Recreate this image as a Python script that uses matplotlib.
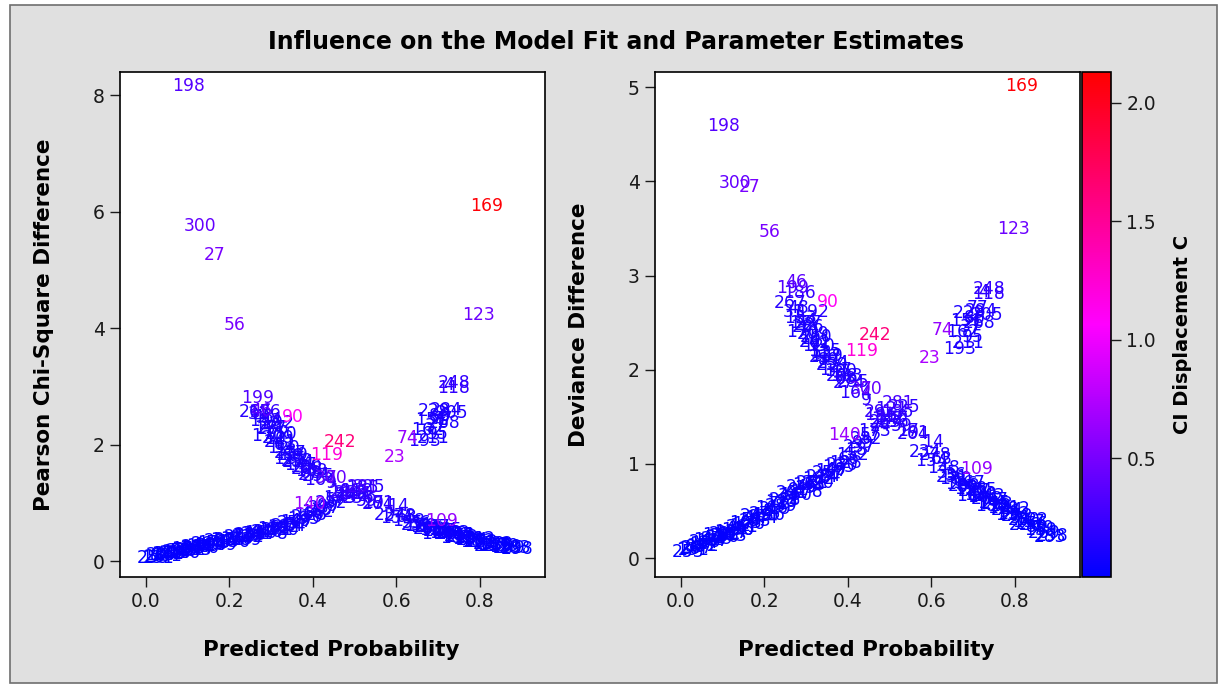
import matplotlib
matplotlib.use("Agg")
import matplotlib.pyplot as plt
import numpy as np
from matplotlib.colors import LinearSegmentedColormap, Normalize
from matplotlib.patches import Rectangle

plt.rcParams['font.family'] = ['DejaVu Sans']

# observation number, predicted probability, Pearson chi-square difference,
# deviance difference, CI displacement C -- read off the picture by eye

# ascending branch (observed 0, low p)
ids_a = [253, 26, 131, 88, 207, 15, 172, 240, 64, 113, 187, 52, 279, 39, 156, 222,
         81, 134, 297, 45, 190, 12, 261, 103, 176, 58, 233, 97, 144, 275, 8, 166,
         219, 71, 125, 288, 34, 201, 160, 92, 246, 19, 138, 271, 61, 182, 214, 5,
         257, 107, 49, 195, 230, 128, 66, 140, 152, 18, 237, 99, 282, 57, 173, 24,
         263, 110, 185, 225, 41, 116, 203, 76, 249, 136, 289, 2, 178, 220, 84]
prob_a = [0.018, 0.022, 0.028, 0.035, 0.040, 0.046, 0.052, 0.058, 0.064, 0.070, 0.076,
          0.082, 0.088, 0.094, 0.100, 0.106, 0.112, 0.118, 0.124, 0.130, 0.136, 0.142,
          0.148, 0.155, 0.162, 0.170, 0.178, 0.186, 0.194, 0.202, 0.210, 0.218, 0.226,
          0.234, 0.242, 0.250, 0.258, 0.266, 0.274, 0.282, 0.290, 0.298, 0.306, 0.314,
          0.322, 0.330, 0.338, 0.346, 0.354, 0.362, 0.370, 0.378, 0.386, 0.394, 0.402,
          0.392, 0.412, 0.420, 0.428, 0.436, 0.445, 0.455, 0.465, 0.478, 0.490, 0.505,
          0.520, 0.535, 0.060, 0.090, 0.120, 0.150, 0.180, 0.210, 0.240, 0.270, 0.300,
          0.330, 0.360]
chisq_a = [0.05, 0.08, 0.06, 0.09, 0.11, 0.10, 0.13, 0.12, 0.15, 0.14, 0.16, 0.18, 0.17,
           0.19, 0.21, 0.20, 0.23, 0.22, 0.25, 0.24, 0.27, 0.26, 0.29, 0.28, 0.31, 0.32,
           0.34, 0.33, 0.36, 0.37, 0.39, 0.38, 0.41, 0.43, 0.42, 0.45, 0.47, 0.46, 0.49,
           0.51, 0.50, 0.53, 0.55, 0.54, 0.57, 0.59, 0.61, 0.63, 0.65, 0.68, 0.70, 0.73,
           0.76, 0.79, 0.81, 0.99, 0.84, 0.88, 0.91, 0.95, 1.00, 1.05, 1.09, 1.13, 1.17,
           1.20, 1.25, 1.28, 0.09, 0.14, 0.19, 0.23, 0.28, 0.33, 0.37, 0.42, 0.47, 0.53,
           0.60]
dev_a = [0.07, 0.10, 0.09, 0.12, 0.11, 0.15, 0.13, 0.17, 0.16, 0.19, 0.18, 0.21, 0.20,
         0.24, 0.22, 0.26, 0.25, 0.28, 0.27, 0.31, 0.30, 0.34, 0.33, 0.37, 0.36, 0.40,
         0.39, 0.44, 0.43, 0.47, 0.50, 0.53, 0.52, 0.57, 0.60, 0.62, 0.66, 0.69, 0.67,
         0.72, 0.75, 0.74, 0.78, 0.80, 0.79, 0.84, 0.86, 0.85, 0.90, 0.92, 0.94, 0.97,
         0.99, 1.01, 1.05, 1.31, 1.10, 1.15, 1.18, 1.22, 1.26, 1.31, 1.35, 1.40, 1.45,
         1.50, 1.55, 1.60, 0.13, 0.25, 0.24, 0.30, 0.45, 0.46, 0.55, 0.63, 0.70, 0.80,
         0.87]
cdisp_a = [0.00, 0.00, 0.00, 0.01, 0.01, 0.01, 0.01, 0.01, 0.01, 0.01, 0.01, 0.02, 0.02,
           0.02, 0.02, 0.02, 0.02, 0.02, 0.02, 0.02, 0.03, 0.03, 0.03, 0.03, 0.03, 0.03,
           0.03, 0.03, 0.04, 0.04, 0.04, 0.04, 0.04, 0.04, 0.05, 0.05, 0.05, 0.05, 0.05,
           0.06, 0.06, 0.06, 0.06, 0.06, 0.07, 0.07, 0.07, 0.07, 0.08, 0.08, 0.08, 0.09,
           0.09, 0.09, 0.10, 0.65, 0.10, 0.11, 0.11, 0.12, 0.12, 0.13, 0.14, 0.15, 0.16,
           0.17, 0.18, 0.19, 0.01, 0.02, 0.02, 0.03, 0.03, 0.04, 0.04, 0.05, 0.06, 0.07,
           0.08]

# high branch (observed 1, low p) and the crossing
ids_c = [199, 46, 186, 267, 31, 192, 153, 22, 286, 170, 10, 241, 120, 53, 217, 89, 259,
         147, 3, 208, 68, 274, 30, 70, 164, 115, 250, 44, 90, 119, 242,
         281, 29, 196, 142, 236, 59, 17, 264, 121,
         48, 177, 209, 62, 139, 254, 100, 183, 295, 9]
prob_c = [0.268, 0.276, 0.284, 0.262, 0.270, 0.316, 0.286, 0.296, 0.304, 0.292, 0.310,
          0.322, 0.330, 0.338, 0.346, 0.354, 0.362, 0.370, 0.378, 0.386, 0.395, 0.404,
          0.432, 0.458, 0.420, 0.345, 0.325, 0.300, 0.352, 0.434, 0.465,
          0.520, 0.465, 0.480, 0.495, 0.510, 0.530, 0.545, 0.558, 0.505,
          0.280, 0.300, 0.318, 0.334, 0.350, 0.366, 0.382, 0.398, 0.412, 0.445]
chisq_c = [2.80, 2.58, 2.56, 2.57, 2.52, 2.38, 2.40, 2.35, 2.27, 2.15, 2.10, 2.05, 1.95,
           1.90, 1.86, 1.80, 1.72, 1.65, 1.60, 1.58, 1.52, 1.48, 1.43, 1.43, 1.40, 1.75,
           2.18, 2.42, 2.47, 1.82, 2.04,
           1.27, 1.17, 1.20, 1.12, 1.08, 1.04, 1.00, 0.98, 1.15,
           2.48, 2.28, 2.12, 2.00, 1.82, 1.70, 1.62, 1.55, 1.47, 1.35]
dev_c = [2.87, 2.93, 2.81, 2.71, 2.61, 2.61, 2.55, 2.47, 2.45, 2.40, 2.33, 2.29, 2.25,
         2.18, 2.13, 2.10, 2.05, 2.00, 1.96, 1.93, 1.90, 1.86, 1.80, 1.80, 1.75, 2.20,
         2.35, 2.52, 2.72, 2.20, 2.37,
         1.65, 1.55, 1.52, 1.48, 1.44, 1.40, 1.35, 1.32, 1.58,
         2.66, 2.50, 2.38, 2.28, 2.15, 2.07, 1.99, 1.93, 1.87, 1.68]
cdisp_c = [0.34, 0.38, 0.22, 0.16, 0.14, 0.16, 0.12, 0.11, 0.11, 0.10, 0.10, 0.10, 0.10,
           0.10, 0.11, 0.11, 0.12, 0.12, 0.13, 0.14, 0.15, 0.16, 0.40, 0.42, 0.17, 0.11,
           0.10, 0.12, 1.10, 1.22, 1.62,
           0.30, 0.24, 0.20, 0.18, 0.18, 0.17, 0.16, 0.15, 0.22,
           0.12, 0.11, 0.10, 0.10, 0.10, 0.11, 0.12, 0.13, 0.14, 0.20]

# descending branch (observed 1, high p)
ids_b = [91, 14, 234, 278, 63, 148, 109, 35, 251, 180, 6, 126, 293, 80, 158, 227, 42,
         189, 101, 262, 75, 145, 213, 28, 171, 244, 96, 132, 272, 51, 200, 117, 256,
         83, 159, 269, 283, 298, 36, 167, 215, 104, 243, 67, 188, 292, 11, 122, 226,
         79, 154]
prob_b = [0.570, 0.605, 0.585, 0.610, 0.625, 0.630, 0.708, 0.640, 0.650, 0.658, 0.665,
          0.672, 0.680, 0.688, 0.695, 0.702, 0.710, 0.718, 0.726, 0.734, 0.742, 0.750,
          0.758, 0.766, 0.774, 0.782, 0.790, 0.798, 0.806, 0.815, 0.824, 0.833, 0.842,
          0.852, 0.862, 0.872, 0.885, 0.890, 0.660, 0.690, 0.720, 0.700, 0.740, 0.760,
          0.745, 0.800, 0.780, 0.840, 0.825, 0.870, 0.600]
chisq_b = [1.00, 0.95, 0.80, 0.78, 0.76, 0.70, 0.70, 0.66, 0.63, 0.61, 0.60, 0.58, 0.56,
           0.55, 0.53, 0.52, 0.50, 0.49, 0.47, 0.46, 0.44, 0.43, 0.41, 0.40, 0.38, 0.37,
           0.35, 0.34, 0.33, 0.31, 0.30, 0.28, 0.27, 0.26, 0.24, 0.23, 0.22, 0.21, 0.66,
           0.59, 0.53, 0.47, 0.49, 0.45, 0.40, 0.38, 0.33, 0.30, 0.26, 0.27, 0.75]
dev_b = [1.33, 1.23, 1.13, 1.10, 1.05, 0.96, 0.945, 0.90, 0.86, 0.84, 0.82, 0.79, 0.77,
         0.76, 0.73, 0.71, 0.69, 0.67, 0.65, 0.63, 0.61, 0.59, 0.57, 0.55, 0.53, 0.51,
         0.49, 0.47, 0.45, 0.43, 0.40, 0.38, 0.36, 0.33, 0.30, 0.27, 0.22, 0.23, 0.88,
         0.80, 0.72, 0.66, 0.66, 0.62, 0.55, 0.52, 0.46, 0.40, 0.35, 0.32, 1.03]
cdisp_b = [0.20, 0.18, 0.14, 0.12, 0.11, 0.10, 0.62, 0.09, 0.09, 0.08, 0.08, 0.07, 0.07,
           0.07, 0.06, 0.06, 0.06, 0.05, 0.05, 0.05, 0.05, 0.04, 0.04, 0.04, 0.04, 0.03,
           0.03, 0.03, 0.03, 0.03, 0.02, 0.02, 0.02, 0.02, 0.02, 0.01, 0.01, 0.01, 0.09,
           0.07, 0.06, 0.06, 0.05, 0.04, 0.04, 0.03, 0.03, 0.02, 0.02, 0.01, 0.12]

# upper right cluster (observed 0, high p)
ids_d = [74, 193, 211, 95, 162, 37, 268, 151, 86, 229, 284, 205, 248, 118, 4, 77]
prob_d = [0.628, 0.668, 0.690, 0.700, 0.675, 0.695, 0.715, 0.685, 0.705, 0.690, 0.720,
          0.735, 0.740, 0.738, 0.725, 0.712]
chisq_d = [2.12, 2.07, 2.12, 2.18, 2.26, 2.32, 2.38, 2.42, 2.50, 2.58, 2.60, 2.55, 3.06,
           2.97, 3.02, 2.45]
dev_d = [2.42, 2.22, 2.28, 2.35, 2.40, 2.45, 2.50, 2.52, 2.55, 2.60, 2.62, 2.58, 2.86,
         2.80, 2.83, 2.66]
cdisp_d = [0.62, 0.14, 0.10, 0.11, 0.09, 0.11, 0.12, 0.10, 0.11, 0.12, 0.13, 0.14, 0.22,
           0.20, 0.18, 0.11]

# outlying observations
ids_o = [198, 300, 27, 56, 169, 123, 23]
prob_o = [0.103, 0.130, 0.165, 0.212, 0.817, 0.797, 0.596]
chisq_o = [8.16, 5.76, 5.26, 4.06, 6.10, 4.23, 1.79]
dev_o = [4.59, 3.98, 3.94, 3.46, 5.01, 3.49, 2.12]
cdisp_o = [0.35, 0.42, 0.50, 0.50, 2.10, 0.45, 0.72]

obs_ids = ids_a + ids_c + ids_b + ids_d + ids_o
pred_prob = prob_a + prob_c + prob_b + prob_d + prob_o
chisq_diff = chisq_a + chisq_c + chisq_b + chisq_d + chisq_o
dev_diff = dev_a + dev_c + dev_b + dev_d + dev_o
ci_disp = cdisp_a + cdisp_c + cdisp_b + cdisp_d + cdisp_o

cmap = LinearSegmentedColormap.from_list('bmr', ['#0000FF', '#FF00FF', '#FF0000'])
norm = Normalize(vmin=0.0, vmax=2.13)

fig = plt.figure(figsize=(12.2, 6.84), dpi=100, facecolor='white')
fig.patches.append(Rectangle((10 / 1220, 1 / 684), 1207 / 1220, 678 / 684,
                             transform=fig.transFigure, facecolor='#E0E0E0',
                             edgecolor='#6E6E6E', linewidth=1.2, zorder=-10))

ax1 = fig.add_axes([120 / 1220, 107 / 684, 425 / 1220, 505 / 684])
ax2 = fig.add_axes([655 / 1220, 107 / 684, 425 / 1220, 505 / 684])
cax = fig.add_axes([1082 / 1220, 107 / 684, 29 / 1220, 505 / 684])

panels = [(ax1, chisq_diff, 'Pearson Chi-Square Difference', (-0.27, 8.40), [0, 2, 4, 6, 8]),
          (ax2, dev_diff, 'Deviance Difference', (-0.20, 5.16), [0, 1, 2, 3, 4, 5])]

for ax, yvals, ylab, ylim, yticks in panels:
    ax.set_facecolor('white')
    # low-influence labels first so the coloured ones stay on top
    order = np.argsort(ci_disp, kind='stable')
    for i in order:
        ax.text(pred_prob[i], yvals[i], str(obs_ids[i]), color=cmap(norm(ci_disp[i])),
                ha='center', va='center', fontsize=12.3, clip_on=True)
    ax.set_xlim(-0.062, 0.957)
    ax.set_ylim(*ylim)
    ax.set_xticks([0.0, 0.2, 0.4, 0.6, 0.8])
    ax.set_xticklabels(['0.0', '0.2', '0.4', '0.6', '0.8'])
    ax.set_yticks(yticks)
    ax.tick_params(direction='out', length=7, width=1, labelsize=13.5, colors='#1A1A1A',
                   pad=4)
    for sp in ax.spines.values():
        sp.set_linewidth(1.2)
        sp.set_color('black')
    ax.set_xlabel('Predicted Probability', fontsize=15.5, fontweight='bold')
    ax.set_ylabel(ylab, fontsize=15.5, fontweight='bold')
    ax.xaxis.set_label_coords(0.497, -0.125)
    ax.yaxis.set_label_coords(-0.155, 0.5)

sm = plt.cm.ScalarMappable(cmap=cmap, norm=norm)
cb = fig.colorbar(sm, cax=cax, ticks=[0.5, 1.0, 1.5, 2.0])
cb.ax.set_yticklabels(['0.5', '1.0', '1.5', '2.0'])
cb.ax.tick_params(direction='out', length=7, width=1, labelsize=13.5, colors='#1A1A1A',
                  pad=4)
cb.outline.set_linewidth(1.2)
cb.set_label('CI Displacement C', fontsize=14, fontweight='bold')
cb.ax.yaxis.set_label_coords(3.15, 0.48)

fig.text(616 / 1220, 1 - 42 / 684, 'Influence on the Model Fit and Parameter Estimates',
         ha='center', va='center', fontsize=17.0, fontweight='bold')

fig.savefig('out.png', dpi=100, facecolor=fig.get_facecolor())
